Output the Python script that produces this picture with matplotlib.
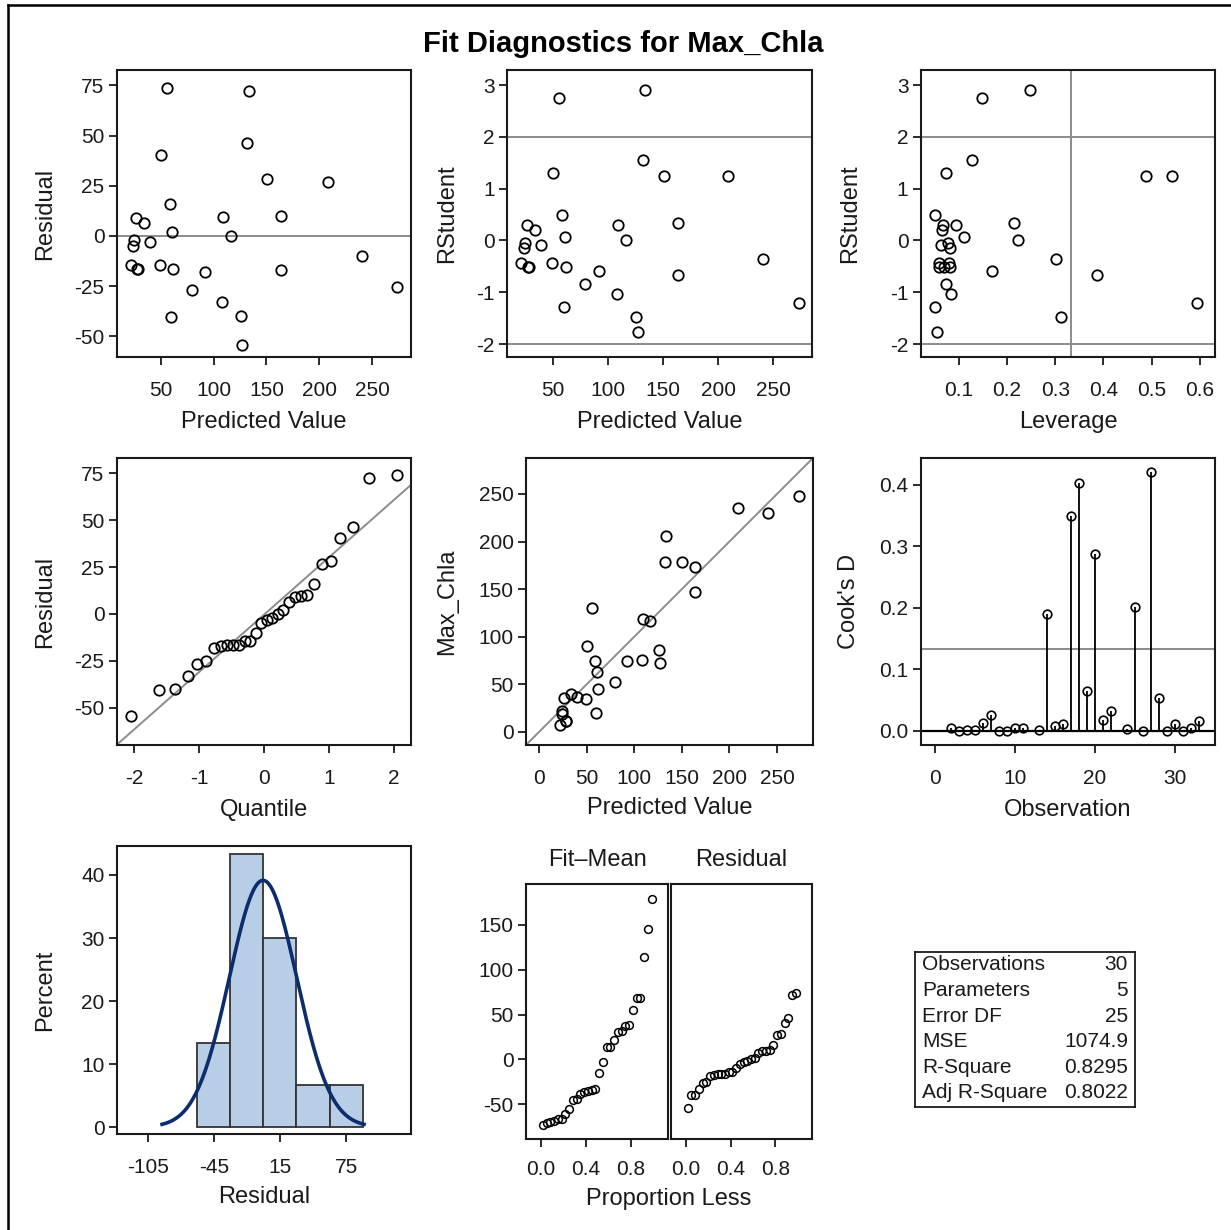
import numpy as np
import matplotlib
matplotlib.use("Agg")
import matplotlib.pyplot as plt
from matplotlib.lines import Line2D
from statistics import NormalDist

plt.rcParams['font.family'] = ['Liberation Sans', 'DejaVu Sans']
plt.rcParams['axes.unicode_minus'] = False

# ---------------- data ----------------
predicted = [55.9, 133.4, 131.8, 50.2, 150.4, 208.5, 58.8, 26.2, 33.8, 108.7,
             163.7, 61.0, 116.6, 24.6, 24.0, 39.5, 21.5, 27.8, 28.4, 49.3,
             61.9, 92.3, 163.7, 240.4, 79.3, 273.3, 108.1, 60.0, 125.8, 127.0]
residual = [73.9, 72.2, 46.5, 40.5, 28.4, 26.7, 15.8, 9.1, 6.5, 9.6,
            10.0, 2.0, 0.0, -2.2, -5.0, -3.2, -14.6, -16.4, -16.5, -14.3,
            -16.3, -18.1, -17.1, -10.0, -26.7, -25.2, -32.9, -40.3, -39.7, -54.1]
rstudent = [2.74, 2.90, 1.55, 1.31, 1.24, 1.24, 0.49, 0.29, 0.20, 0.30,
            0.33, 0.06, 0.01, -0.04, -0.15, -0.09, -0.44, -0.51, -0.51, -0.43,
            -0.51, -0.59, -0.66, -0.35, -0.85, -1.20, -1.04, -1.28, -1.48, -1.77]
leverage = [0.149, 0.248, 0.128, 0.073, 0.488, 0.541, 0.051, 0.068, 0.066, 0.094,
            0.214, 0.111, 0.223, 0.077, 0.083, 0.063, 0.059, 0.059, 0.069, 0.079,
            0.083, 0.169, 0.386, 0.301, 0.074, 0.594, 0.085, 0.051, 0.313, 0.056]
cook_obs = [2, 3, 4, 5, 6, 7, 8, 9, 10, 11, 13, 14, 15, 16, 17, 18, 19, 20, 21, 22,
            24, 25, 26, 27, 28, 29, 30, 31, 32, 33]
cook_d = [0.005, 0.0, 0.001, 0.001, 0.013, 0.025, 0.0, 0.0, 0.004, 0.004,
          0.001, 0.190, 0.008, 0.011, 0.349, 0.403, 0.065, 0.287, 0.018, 0.032,
          0.003, 0.202, 0.0, 0.421, 0.053, 0.0, 0.011, 0.0, 0.004, 0.016]
stat_labels = ["Observations", "Parameters", "Error DF", "MSE", "R-Square", "Adj R-Square"]
stat_values = ["30", "5", "25", "1074.9", "0.8295", "0.8022"]
n_params = 5
hist_edges = [-60, -30, 0, 30, 60, 90]

pred = np.array(predicted)
resid = np.array(residual)
n = len(pred)
observed = pred + resid

# ---------------- layout helpers ----------------
W, H = 1231, 1230
fig = plt.figure(figsize=(W / 100, H / 100), dpi=100)

TICK = 15
LAB = 17
GRAY = '#8c8c8c'
DARK = '#1a1a1a'
mk = dict(linestyle='none', marker='o', mfc='none', mec='black', ms=7.5, mew=1.3)


def add_ax(l, t, r, b):
    ax = fig.add_axes([l / W, 1 - b / H, (r - l) / W, (b - t) / H])
    ax._px = (l, t, r, b)
    for s in ax.spines.values():
        s.set_linewidth(1.5)
        s.set_color(DARK)
    ax.tick_params(direction='out', length=6, width=1.3, labelsize=TICK, pad=3,
                   color=DARK, labelcolor=DARK)
    ax.tick_params(axis='x', pad=11)
    return ax


def labels(ax, xl=None, xl_y=None, yl=None, yl_x=None):
    l, t, r, b = ax._px
    if xl:
        ax.set_xlabel(xl, fontsize=LAB, color=DARK)
        ax.xaxis.set_label_coords(0.5, 1 - (xl_y - t) / (b - t))
        ax.xaxis.label.set_va('center')
    if yl:
        ax.set_ylabel(yl, fontsize=LAB, color=DARK)
        ax.yaxis.set_label_coords((yl_x - l) / (r - l), 0.5)
        ax.yaxis.label.set_va('center')


# ---------------- Panel 1: Residual vs Predicted ----------------
ax1 = add_ax(117, 70, 411, 357)
ax1.axhline(0, color=GRAY, lw=1.4, zorder=1)
ax1.plot(pred, resid, **mk)
ax1.set_xlim(8.5, 287)
ax1.set_ylim(-60.3, 82.7)
ax1.set_xticks([50, 100, 150, 200, 250])
ax1.set_yticks([-50, -25, 0, 25, 50, 75])
labels(ax1, 'Predicted Value', 422, 'Residual', 45)

# ---------------- Panel 2: RStudent vs Predicted ----------------
ax2 = add_ax(507, 70, 812, 357)
for v in (-2, 2):
    ax2.axhline(v, color=GRAY, lw=1.4, zorder=1)
ax2.plot(pred, rstudent, **mk)
ax2.set_xlim(8.5, 285)
ax2.set_ylim(-2.25, 3.29)
ax2.set_xticks([50, 100, 150, 200, 250])
ax2.set_yticks([-2, -1, 0, 1, 2, 3])
labels(ax2, 'Predicted Value', 422, 'RStudent', 447)

# ---------------- Panel 3: RStudent vs Leverage ----------------
ax3 = add_ax(921, 70, 1215, 357)
for v in (-2, 2):
    ax3.axhline(v, color=GRAY, lw=1.4, zorder=1)
ax3.axvline(2 * n_params / n, color=GRAY, lw=1.4, zorder=1)
ax3.plot(leverage, rstudent, **mk)
ax3.set_xlim(0.022, 0.631)
ax3.set_ylim(-2.25, 3.29)
ax3.set_xticks([0.1, 0.2, 0.3, 0.4, 0.5, 0.6])
ax3.set_xticklabels(['0.1', '0.2', '0.3', '0.4', '0.5', '0.6'])
ax3.set_yticks([-2, -1, 0, 1, 2, 3])
labels(ax3, 'Leverage', 422, 'RStudent', 850)

# ---------------- Panel 4: Q-Q plot of residuals ----------------
ax4 = add_ax(117, 458, 411, 745)
sres = np.sort(resid)
quant = [NormalDist().inv_cdf((i + 1 - 0.375) / (n + 0.25)) for i in range(n)]
sd = np.std(resid, ddof=1)
ax4.axline((0, resid.mean()), slope=sd, color=GRAY, lw=1.4, zorder=1)
ax4.plot(quant, sres, **mk)
ax4.set_xlim(-2.26, 2.26)
ax4.set_ylim(-69.7, 83)
ax4.set_xticks([-2, -1, 0, 1, 2])
ax4.set_yticks([-50, -25, 0, 25, 50, 75])
labels(ax4, 'Quantile', 810, 'Residual', 45)

# ---------------- Panel 5: Observed vs Predicted ----------------
ax5 = add_ax(526, 458, 813, 745)
ax5.axline((0, 0), slope=1, color=GRAY, lw=1.4, zorder=1)
ax5.plot(pred, observed, **mk)
ax5.set_xlim(-13.7, 287.8)
ax5.set_ylim(-13.7, 287.8)
ax5.set_xticks([0, 50, 100, 150, 200, 250])
ax5.set_yticks([0, 50, 100, 150, 200, 250])
labels(ax5, 'Predicted Value', 808, 'Max_Chla', 447)

# ---------------- Panel 6: Cook's D ----------------
ax6 = add_ax(921, 458, 1215, 745)
ax6.axhline(4 / n, color=GRAY, lw=1.4, zorder=1)
ax6.axhline(0, color='black', lw=1.6, zorder=2)
ax6.vlines(cook_obs, 0, cook_d, color='black', lw=1.3, zorder=3)
ax6.plot(cook_obs, cook_d, linestyle='none', marker='o', mfc='none', mec='black',
         ms=6.2, mew=1.2, zorder=4)
ax6.set_xlim(-1.7, 35.06)
ax6.set_ylim(-0.023, 0.4436)
ax6.set_xticks([0, 10, 20, 30])
ax6.set_yticks([0.0, 0.1, 0.2, 0.3, 0.4])
ax6.set_yticklabels(['0.0', '0.1', '0.2', '0.3', '0.4'])
labels(ax6, 'Observation', 810, "Cook's D", 849)

# ---------------- Panel 7: Histogram of residuals ----------------
ax7 = add_ax(117, 846, 411, 1134)
ax7.hist(resid, bins=hist_edges, weights=np.full(n, 100.0 / n),
         facecolor='#b8cde6', edgecolor='#333333', linewidth=1.3, zorder=2)
mu = resid.mean()
bw = hist_edges[1] - hist_edges[0]
xx = np.linspace(mu - 3 * sd, mu + 3 * sd, 300)
yy = 100 * bw * np.exp(-0.5 * ((xx - mu) / sd) ** 2) / (sd * np.sqrt(2 * np.pi))
ax7.plot(xx, yy, color='#0b2d6e', lw=2.6, zorder=3)
ax7.set_xlim(-133, 134)
ax7.set_ylim(-1.1, 44.6)
ax7.set_xticks([-105, -45, 15, 75])
ax7.set_yticks([0, 10, 20, 30, 40])
labels(ax7, 'Residual', 1197, 'Percent', 45)

# ---------------- Panel 8: Residual-fit spread plot ----------------
prop = (np.arange(1, n + 1) - 0.5) / n
fit_mean = np.sort(pred - pred.mean())
small = dict(linestyle='none', marker='o', mfc='none', mec='black', ms=5.6, mew=1.1)

ax8a = add_ax(526, 884, 668, 1139)
ax8a.plot(prop, fit_mean, **small)
ax8b = add_ax(671, 884, 812, 1139)
ax8b.plot(prop, sres, **small)
for ax, head in ((ax8a, 'Fit\u2013Mean'), (ax8b, 'Residual')):
    ax.set_xlim(-0.133, 1.129)
    ax.set_ylim(-88.9, 195.6)
    ax.set_xticks([0.0, 0.4, 0.8])
    ax.set_xticklabels(['0.0', '0.4', '0.8'])
    ax.tick_params(axis='x', pad=9)
    l, t, r, b = ax._px
    ax.text(0.5, 1 + 24 / (b - t), head, transform=ax.transAxes, ha='center',
            va='center', fontsize=LAB, color=DARK)
ax8a.set_yticks([-50, 0, 50, 100, 150])
ax8b.set_yticks([])
fig.text(669 / W, 1 - 1199 / H, 'Proportion Less', ha='center', va='center',
         fontsize=LAB, color=DARK)

# ---------------- Fit statistics table ----------------
axt = add_ax(915, 952, 1135, 1107)
axt.set_xticks([])
axt.set_yticks([])
axt.set_xlim(915, 1135)
axt.set_ylim(1107, 952)
for s in axt.spines.values():
    s.set_linewidth(1.3)
row_y = np.linspace(965, 1093, len(stat_labels))
for yv, lab, val in zip(row_y, stat_labels, stat_values):
    axt.text(922, yv, lab, ha='left', va='center', fontsize=15, color=DARK)
    axt.text(1128, yv, val, ha='right', va='center', fontsize=15, color=DARK)

# ---------------- Title and outer frame ----------------
fig.text(623 / W, 1 - 44 / H, 'Fit Diagnostics for Max_Chla', ha='center',
         va='center', fontsize=21, fontweight='bold', color='black')
fig.add_artist(Line2D([8 / W, 8 / W], [0, 1 - 5 / H], color='black', lw=1.8,
                      transform=fig.transFigure))
fig.add_artist(Line2D([8 / W, 1], [1 - 5 / H, 1 - 5 / H], color='black', lw=1.8,
                      transform=fig.transFigure))

fig.savefig('out.png', dpi=100)
